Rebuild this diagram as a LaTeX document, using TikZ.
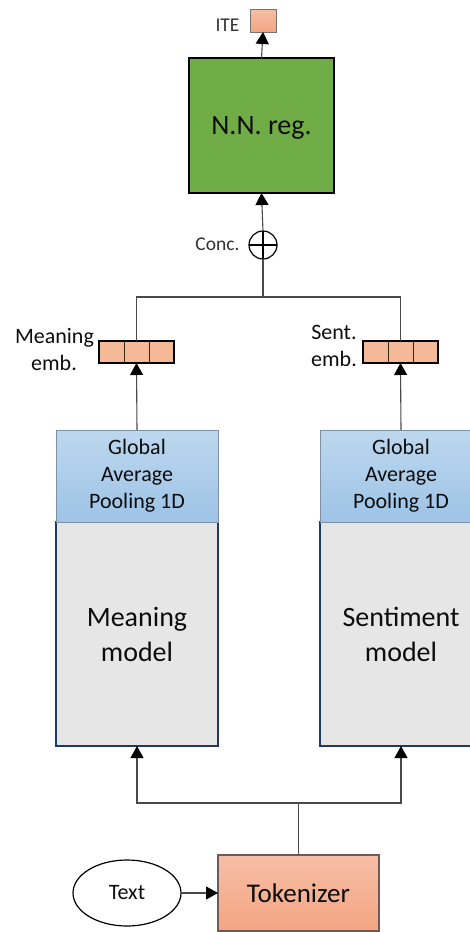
\documentclass[tikz,border=0pt]{standalone}
\usepackage{fontspec}
\setmainfont{Carlito}
\usetikzlibrary{arrows.meta,calc,shapes.geometric}

\definecolor{nngreen}{HTML}{70AD47}
\definecolor{gaptop}{HTML}{BDD7EE}
\definecolor{gapbot}{HTML}{9DC3E6}
\definecolor{gapedge}{HTML}{7F8FA6}
\definecolor{modelfill}{HTML}{E6E6E6}
\definecolor{modeledge}{HTML}{203864}
\definecolor{peach}{HTML}{F4BA98}
\definecolor{toktop}{HTML}{F6BEA6}
\definecolor{tokbot}{HTML}{F4A582}
\definecolor{tokedge}{HTML}{6E5A58}
\definecolor{linegray}{HTML}{4A4A4A}
\definecolor{txtdark}{HTML}{0D0D0D}

\tikzset{
  every node/.style={inner sep=0pt, outer sep=0pt, text=txtdark},
  conn/.style={draw=linegray, line width=1.1pt},
  arr/.style={conn, -{Triangle[width=13pt,length=12pt,color=black]}},
  lbl/.style={font=\fontsize{22}{27}\selectfont},
  small/.style={font=\fontsize{19.5}{24}\selectfont, text=black!80},
  nnbox/.style={draw=black, line width=1.8pt, fill=nngreen,
    minimum width=145pt, minimum height=135pt,
    font=\fontsize{28}{34}\selectfont, text depth=0pt},
  gapbox/.style={draw=gapedge, line width=0.8pt, top color=gaptop, bottom color=gapbot,
    minimum width=162pt, minimum height=92pt, align=center,
    font=\fontsize{22}{27}\selectfont},
  modelbox/.style={draw=modeledge, line width=1.5pt, fill=modelfill,
    minimum width=162pt, minimum height=224pt, align=center,
    font=\fontsize{28}{35}\selectfont},
  embbox/.style={draw=black, line width=1.4pt, fill=peach,
    minimum width=75pt, minimum height=22pt},
  divider/.style={draw=black!70!brown, line width=1pt},
  itebox/.style={draw=black!55, line width=0.8pt, top color=toktop, bottom color=tokbot,
    minimum width=26pt, minimum height=23pt},
  tokbox/.style={draw=tokedge, line width=1.3pt, top color=toktop, bottom color=tokbot,
    minimum width=161pt, minimum height=76pt, font=\fontsize{27}{32}\selectfont},
  textell/.style={ellipse, draw=black, line width=1.2pt, fill=white,
    minimum width=108pt, minimum height=66pt, font=\fontsize{22}{27}\selectfont},
  concnode/.style={circle, draw=black, line width=1.2pt, fill=white, minimum size=28pt}
}

\begin{document}
\begin{tikzpicture}[x=1pt,y=-1pt]
  \useasboundingbox (0,0) rectangle (470,932);
  \clip (0,0) rectangle (470,932);

  % regression head and its output
  \node[nnbox, anchor=north west] (nn) at (189,58) {N.N. reg.};
  \node[itebox, anchor=north west] (ite) at (250,9) {};
  \node[small, anchor=base] (itelbl) at (227.5,31) {ITE};

  % concatenation
  \node[concnode] (conc) at (263,245) {};
  \draw[line width=1.2pt] (conc.north) -- (conc.south) (conc.west) -- (conc.east);
  \node[small, anchor=base] (conclbl) at (217.5,250) {Conc.};
  \coordinate (cj) at (263,297);

  % embedding vectors
  \node[embbox, anchor=north west] (memb) at (99,341) {};
  \node[embbox, anchor=north west] (semb) at (363,341) {};
  \foreach \e in {memb,semb}{
    \draw[divider] ($(\e.north west)!1/3!(\e.north east)$) -- ($(\e.south west)!1/3!(\e.south east)$);
    \draw[divider] ($(\e.north west)!2/3!(\e.north east)$) -- ($(\e.south west)!2/3!(\e.south east)$);
  }
  \node[lbl, anchor=base] (membA) at (54.5,343) {Meaning};
  \node[lbl, anchor=base] (membB) at (54,370) {emb.};
  \node[lbl, anchor=base] (sembA) at (334,339.5) {Sent.};
  \node[lbl, anchor=base] (sembB) at (334,366.5) {emb.};

  % encoders with pooling heads
  \node[modelbox, anchor=north west] (modelL) at (56,522) {Meaning\\model};
  \node[modelbox, anchor=north west] (modelR) at (320,522) {Sentiment\\model};
  \node[gapbox, anchor=north west] (gapL) at (56,430) {Global\\Average\\Pooling 1D};
  \node[gapbox, anchor=north west] (gapR) at (320,430) {Global\\Average\\Pooling 1D};

  % input side
  \node[tokbox, anchor=north west] (tok) at (218,855) {Tokenizer};
  \node[textell] (txt) at (127,893) {Text};
  \coordinate (tj) at (298.5,803);

  % connectors
  \draw[arr] (nn.north) -- (ite.south);
  \draw[arr] (conc.north) -- (nn.south);
  \draw[conn] (cj) -- (conc.south);
  \draw[conn] (memb.north) |- (cj) -| (semb.north);
  \draw[arr] (gapL.north) -- (memb.south);
  \draw[arr] (gapR.north) -- (semb.south);
  \draw[conn] (tok.north) -- (tj);
  \draw[arr] (tj) -| (modelL.south);
  \draw[arr] (tj) -| (modelR.south);
  \draw[arr] (txt.east) -- (tok.west);
\end{tikzpicture}
\end{document}
